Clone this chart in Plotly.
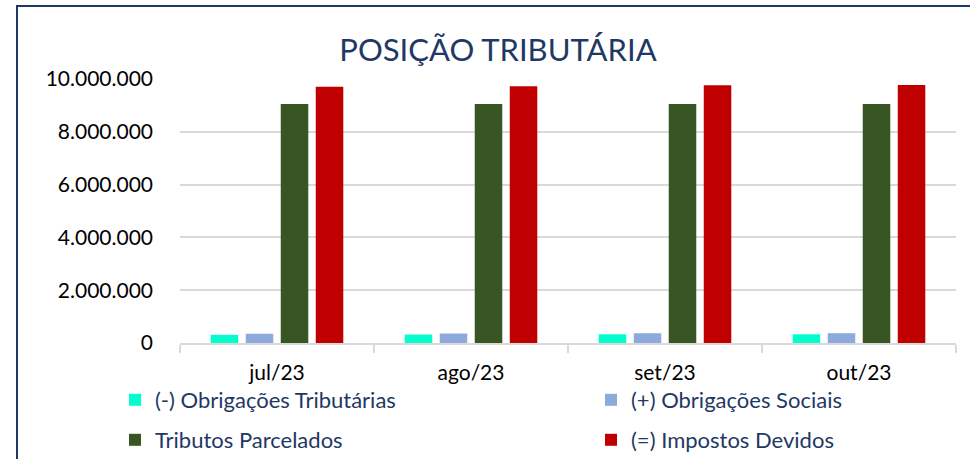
import plotly.graph_objects as go

categories = ["jul/23", "ago/23", "set/23", "out/23"]
obrig_trib = [310000, 320000, 330000, 330000]
obrig_soc = [350000, 360000, 370000, 370000]
trib_parc = [9050000, 9050000, 9050000, 9050000]
impostos = [9710000, 9730000, 9760000, 9770000]

names = ["(-) Obrigações Tributárias", "(+) Obrigações Sociais",
         "Tributos Parcelados", "(=) Impostos Devidos"]
colors = ["#00FFCC", "#8EA9DB", "#375623", "#C00000"]
series = [obrig_trib, obrig_soc, trib_parc, impostos]
legend_ids = ["legend", "legend2", "legend3", "legend4"]
# legend positions in pixels (left, center-y)
legend_pos = [(115, 400), (591, 400), (115, 440), (591, 440)]

FONT = "Lato"
NAVY = "#1F3864"

fig = go.Figure()
for n, c, s, lg in zip(names, colors, series, legend_ids):
    fig.add_trace(go.Bar(x=categories, y=s, name=n, marker_color=c,
                         marker_line_width=0, legend=lg, showlegend=True))

W, H = 970, 459
ml, mr, mt, mb = 180, 14, 79, 116
pw, ph = W - ml - mr, H - mt - mb

def px_to_paper_x(px):
    return (px - ml) / pw

def px_to_paper_y(py):
    return (H - mb - py) / ph

legend_common = dict(orientation="h", xref="container", yref="container",
                     xanchor="left", yanchor="middle", visible=True,
                     font=dict(family=FONT, size=22, color=NAVY),
                     bgcolor="rgba(0,0,0,0)", itemwidth=30)

legend_layout = {}
for lg, (lx, ly) in zip(legend_ids, legend_pos):
    legend_layout[lg] = dict(x=lx / W, y=1 - ly / H, **legend_common)

fig.update_layout(
    width=W, height=H,
    showlegend=True,
    margin=dict(l=ml, r=mr, t=mt, b=mb, autoexpand=False),
    paper_bgcolor="white", plot_bgcolor="white",
    separators=",.",
    barmode="group", bargap=0.278, bargroupgap=0.214,
    title=dict(text="POSIÇÃO TRIBUTÁRIA", x=498 / W, xanchor="center",
               y=1 - 50 / H, yanchor="middle",
               font=dict(family=FONT, size=31, color=NAVY)),
    font=dict(family=FONT),
    xaxis=dict(showgrid=False, showline=True, linecolor="#D9D9D9", linewidth=1.5,
               ticks="outside", tickson="boundaries", ticklen=8,
               tickcolor="#D9D9D9", tickwidth=1.5,
               tickfont=dict(family=FONT, size=21, color="black"),
               ticklabelstandoff=10),
    yaxis=dict(range=[0, 10000000], dtick=2000000, tickformat=",d",
               showgrid=True, gridcolor="#D9D9D9", gridwidth=1.5,
               zeroline=False, showline=False, ticks="",
               tickfont=dict(family=FONT, size=21, color="black"),
               ticklabelstandoff=26),
    shapes=[dict(type="rect", xref="paper", yref="paper",
                 x0=px_to_paper_x(17), x1=px_to_paper_x(1000),
                 y0=px_to_paper_y(500), y1=px_to_paper_y(6),
                 line=dict(color="#203864", width=2), layer="below")],
    **legend_layout,
)

fig.write_html("out.html", config={"displayModeBar": False},
               post_script="document.body.style.margin='0';document.body.style.overflow='hidden';")
